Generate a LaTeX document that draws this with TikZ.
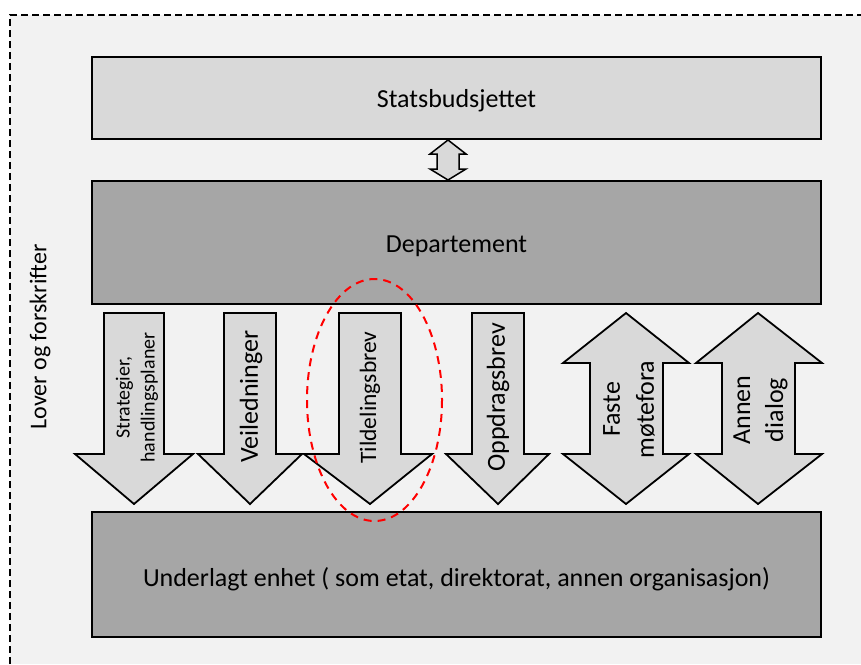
\documentclass[tikz,border=0pt]{standalone}
\usepackage{fontspec}
\setmainfont{Carlito}
\definecolor{bgc}{HTML}{F2F2F2}
\definecolor{lightc}{HTML}{D9D9D9}
\definecolor{darkc}{HTML}{A6A6A6}
\tikzset{
  box/.style={draw=black,line width=1.8pt},
  arr/.style={draw=black,line width=1.8pt,fill=lightc,line join=miter},
  lbl/.style={font=\fontsize{26}{30}\selectfont,text=black,inner sep=0pt},
  albl/.style={font=\fontsize{26}{34}\selectfont,rotate=90,align=center,inner sep=0pt},
}
\begin{document}
\begin{tikzpicture}[x=1pt,y=-1pt]
\useasboundingbox (0,0) rectangle (861,664);
\fill[white] (0,0) rectangle (861,664);
\fill[bgc] (10,15) rectangle (861,664);
\draw[black,line width=2pt,dash pattern=on 7pt off 4pt] (10,664) -- (10,15) -- (861,15);
% boxes
\draw[box,fill=lightc] (92,57) rectangle (821,139);
\node[lbl,anchor=base] (stat) at (456.5,107) {Statsbudsjettet};
\draw[box,fill=darkc] (92,181) rectangle (821,304);
\node[lbl,anchor=base] (dep) at (456.5,252.5) {Departement};
\draw[box,fill=darkc] (92,512) rectangle (821,637);
\node[lbl,anchor=base] (und) at (456.5,586) {Underlagt enhet ( som etat, direktorat, annen organisasjon)};
% double arrow between top boxes
\draw[arr,line width=1.5pt] (448,140) -- (466,154) -- (459,154) -- (459,169) -- (466,169) -- (448,180) -- (430,169) -- (437,169) -- (437,154) -- (430,154) -- cycle;
% down arrows
\draw[arr] (104,313) -- (164,313) -- (164,454) -- (193,454) -- (134,504) -- (75,454) -- (104,454) -- cycle;
\draw[arr] (224,313) -- (276,313) -- (276,454) -- (302,454) -- (250,504) -- (198,454) -- (224,454) -- cycle;
\draw[arr] (339,313) -- (401,313) -- (401,454) -- (432,454) -- (370,504) -- (304,454) -- (339,454) -- cycle;
\draw[arr] (472,313) -- (524,313) -- (524,454) -- (549,454) -- (498,504) -- (446,454) -- (472,454) -- cycle;
% double arrows
\draw[arr] (626,313) -- (689,363) -- (663,363) -- (663,454) -- (689,454) -- (626,504) -- (563,454) -- (590,454) -- (590,363) -- (563,363) -- cycle;
\draw[arr] (758,313) -- (822,363) -- (795,363) -- (795,454) -- (822,454) -- (758,504) -- (696,454) -- (722,454) -- (722,363) -- (696,363) -- cycle;
% arrow labels
\node[albl,font=\fontsize{20}{25}\selectfont] (strat) at (137,397.5) {Strategier,\\handlingsplaner};
\node[albl] (veil) at (251,396.5) {Veiledninger};
\node[albl,font=\fontsize{23.5}{28}\selectfont] (tild) at (370,397.5) {Tildelingsbrev};
\node[albl] (oppd) at (498,397.5) {Oppdragsbrev};
\node[albl] (fast) at (629,409.5) {Faste\\møtefora};
\node[albl,font=\fontsize{26}{33}\selectfont] (anne) at (760.5,410) {Annen\\dialog};
% left label
\node[lbl,rotate=90,font=\fontsize{24}{28}\selectfont] (lov) at (40,337) {Lover og forskrifter};
% red ellipse
\draw[red,line width=2pt,dash pattern=on 8pt off 6pt] (374.5,400) ellipse [x radius=67.5,y radius=121];
\end{tikzpicture}
\end{document}
